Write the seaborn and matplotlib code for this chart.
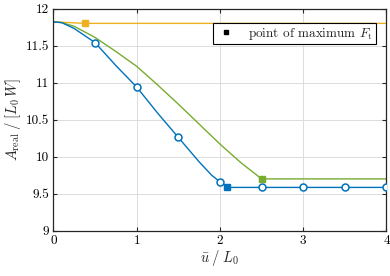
import numpy as np
import pandas as pd
import matplotlib
matplotlib.use("Agg")
import matplotlib.pyplot as plt
import seaborn as sns

sns.set_style("whitegrid")
plt.rcParams['font.family'] = 'serif'
plt.rcParams['font.serif'] = ['cmr10', 'DejaVu Serif']
plt.rcParams['mathtext.fontset'] = 'cm'
plt.rcParams['axes.formatter.use_mathtext'] = True

# curves (u / L0, A_real / (L0 W))
blue_u = [0, 0.1, 0.25, 0.5, 0.75, 1.0, 1.25, 1.5, 1.75, 1.9, 2.0, 2.09, 4.0]
blue_a = [11.82, 11.81, 11.73, 11.54, 11.23, 10.94, 10.59, 10.26, 9.93, 9.75, 9.66, 9.585, 9.585]
green_u = [0, 0.1, 0.25, 0.5, 0.75, 1.0, 1.25, 1.5, 1.75, 2.0, 2.25, 2.5, 4.0]
green_a = [11.82, 11.81, 11.76, 11.61, 11.42, 11.22, 10.97, 10.71, 10.44, 10.17, 9.92, 9.70, 9.70]
yellow_u = [0, 0.38, 4.0]
yellow_a = [11.82, 11.80, 11.80]

# circle markers on blue curve
circ_u = [0.5, 1.0, 1.5, 2.0, 2.5, 3.0, 3.5, 4.0]
circ_a = [11.54, 10.94, 10.26, 9.66, 9.585, 9.585, 9.585, 9.585]

# points of maximum F_t
max_u = [0.38, 2.09, 2.5]
max_a = [11.80, 9.585, 9.70]

c_blue = '#0072BD'
c_green = '#77AC30'
c_yellow = '#EDB120'
max_cols = [c_yellow, c_blue, c_green]

fig = plt.figure(figsize=(3.9, 2.76), dpi=100)
ax = fig.add_axes([0.137, 0.164, 0.854, 0.805])

for u, a, c in [(yellow_u, yellow_a, c_yellow), (green_u, green_a, c_green),
                (blue_u, blue_a, c_blue)]:
    sns.lineplot(x=u, y=a, color=c, lw=1.0, ax=ax, estimator=None, sort=False)

ax.plot(circ_u, circ_a, 'o', ms=5, mfc='white', mec=c_blue, mew=1.1, ls='none', zorder=4)
for u, a, c in zip(max_u, max_a, max_cols):
    ax.plot(u, a, 's', ms=4, color=c, zorder=5)

h, = ax.plot([], [], 's', ms=3, color='black', label=r'point of maximum $F_\mathrm{t}$')
leg = ax.legend(handles=[h], loc='upper right', fontsize=9.5, frameon=True,
                fancybox=False, edgecolor='black', framealpha=1,
                handletextpad=0.9, borderpad=0.2, handlelength=1.6,
                bbox_to_anchor=(0.988, 0.965))
leg.get_frame().set_linewidth(0.8)

ax.set_xlim(0, 4)
ax.set_ylim(9, 12)
ax.set_xticks([0, 1, 2, 3, 4])
ax.set_yticks([9, 9.5, 10, 10.5, 11, 11.5, 12])
ax.set_xticklabels(['0', '1', '2', '3', '4'])
ax.set_yticklabels(['9', '9.5', '10', '10.5', '11', '11.5', '12'])
ax.grid(True, color='#dcdcdc', lw=0.7)
for s in ax.spines.values():
    s.set_color('#262626')
    s.set_linewidth(0.9)
    s.set_visible(True)
ax.tick_params(direction='in', length=3, width=0.8, labelsize=9.5,
               top=True, right=True, bottom=True, left=True, colors='#262626')
ax.tick_params(labelcolor='black', pad=3)

ax.set_xlabel(r'$\bar{u}\;/\;L_0$', fontsize=10.5, labelpad=1)
ax.set_ylabel(r'$A_\mathrm{real}\;/\;[L_0\,W]$', fontsize=10.5, labelpad=2)

fig.savefig('out.png', dpi=100)
